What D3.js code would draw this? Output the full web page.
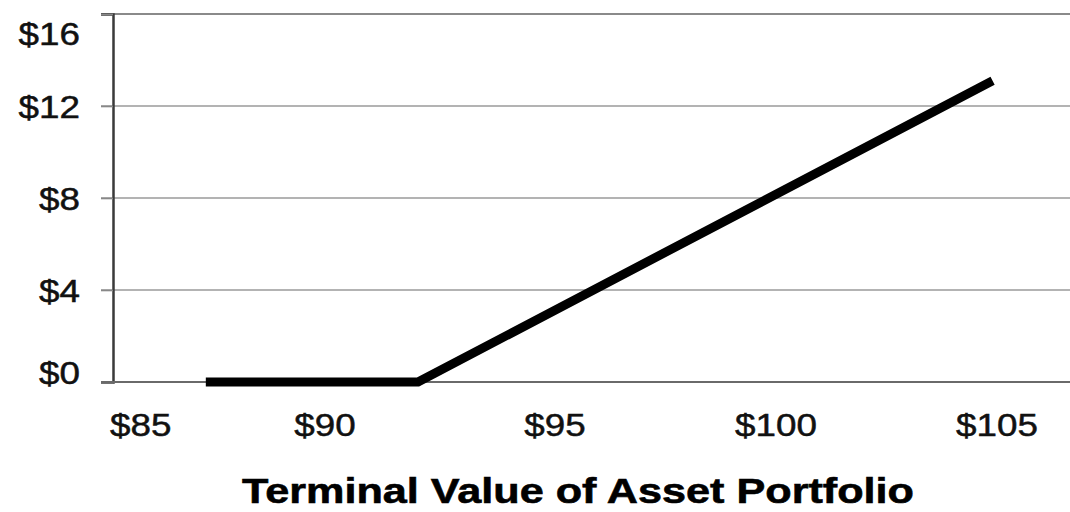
<!DOCTYPE html>
<html>
<head>
<meta charset="utf-8">
<script src="https://cdn.jsdelivr.net/npm/d3@7"></script>
<style>
  html, body { margin: 0; padding: 0; background: #fff; }
  svg { display: block; }
</style>
</head>
<body>
<svg id="chart" width="1070" height="512"></svg>
<script>
// ---- data ----
const assetValues = [87.1, 91.9, 104.9];   // terminal value of asset portfolio ($)
const payoffValues = [0, 0, 13.1];         // payoff ($)
const xTicks = [85, 90, 95, 100, 105];
const yTicks = [0, 4, 8, 12, 16];
const xTitle = "Terminal Value of Asset Portfolio";

const svg = d3.select("#chart");
const W = 1070, H = 512;
const mLeft = 113, mRight = 1075, mTop = 14, mBottom = 382;
const SX = 1.15; // horizontal text stretch of the reference

const x = d3.scaleLinear().domain([85, 85 + (mRight - mLeft) / 44.2]).range([mLeft, mRight]);
const y = d3.scaleLinear().domain([0, 16]).range([mBottom, mTop]);

// gridlines
svg.append("g")
  .selectAll("line")
  .data(yTicks.filter(d => d > 0))
  .join("line")
  .attr("x1", mLeft - 12).attr("x2", W)
  .attr("y1", d => y(d)).attr("y2", d => y(d))
  .attr("stroke", d => d === 16 ? "#8a8a8a" : "#9a9a9a")
  .attr("stroke-width", d => d === 16 ? 2 : 1.6);

// y axis
const yAxis = svg.append("g")
  .attr("transform", `translate(${mLeft},0)`)
  .call(d3.axisLeft(y).tickValues(yTicks).tickSize(12).tickPadding(0).tickFormat(d => "$" + d));
yAxis.select(".domain").attr("stroke", "#3a3a3a").attr("stroke-width", 2.5);
yAxis.selectAll(".tick line").attr("stroke", "#888").attr("stroke-width", 1.6);
yAxis.selectAll(".tick text")
  .attr("font-family", "Liberation Sans, Arial, sans-serif")
  .attr("font-size", 32)
  .attr("fill", "#111")
  .attr("stroke", "#111").attr("stroke-width", 0.5)
  .attr("text-anchor", "end")
  .attr("x", -33 / SX)
  .attr("dy", d => d === 16 ? "0.95em" : (d === 0 ? "0.05em" : "0.36em"))
  .attr("transform", `scale(${SX},1)`);

// x axis
const xAxis = svg.append("g")
  .attr("transform", `translate(0,${mBottom})`)
  .call(d3.axisBottom(x).tickValues(xTicks).tickSize(0).tickPadding(0).tickFormat(d => "$" + d));
xAxis.select(".domain").remove();
xAxis.append("line")
  .attr("x1", mLeft - 12).attr("x2", W)
  .attr("y1", 0).attr("y2", 0)
  .attr("stroke", "#6a6a6a").attr("stroke-width", 2);
xAxis.selectAll(".tick").each(function(d) {
  const px = x(d);
  const g = d3.select(this).attr("transform", null);
  g.select("text")
    .attr("font-family", "Liberation Sans, Arial, sans-serif")
    .attr("font-size", 32)
    .attr("fill", "#111")
    .attr("stroke", "#111").attr("stroke-width", 0.5)
    .attr("y", 54)
    .attr("dy", 0)
    .attr("text-anchor", d === 85 ? "start" : "middle")
    .attr("x", (d === 85 ? px - 3 : (d === 90 ? px - 9 : px)) / SX)
    .attr("transform", `scale(${SX},1)`);
});

// payoff line
const line = d3.line().x((d, i) => x(assetValues[i])).y(d => y(d));
svg.append("path")
  .datum(payoffValues)
  .attr("d", line)
  .attr("fill", "none")
  .attr("stroke", "#000")
  .attr("stroke-width", 9)
  .attr("stroke-linejoin", "round");

// x title
svg.append("text")
  .attr("transform", `translate(578,503) scale(1.2,1)`)
  .attr("text-anchor", "middle")
  .attr("font-family", "Liberation Sans, Arial, sans-serif")
  .attr("font-weight", "bold")
  .attr("font-size", 36)
  .attr("fill", "#000")
  .attr("stroke", "#000").attr("stroke-width", 0.6)
  .text(xTitle);
</script>
</body>
</html>
